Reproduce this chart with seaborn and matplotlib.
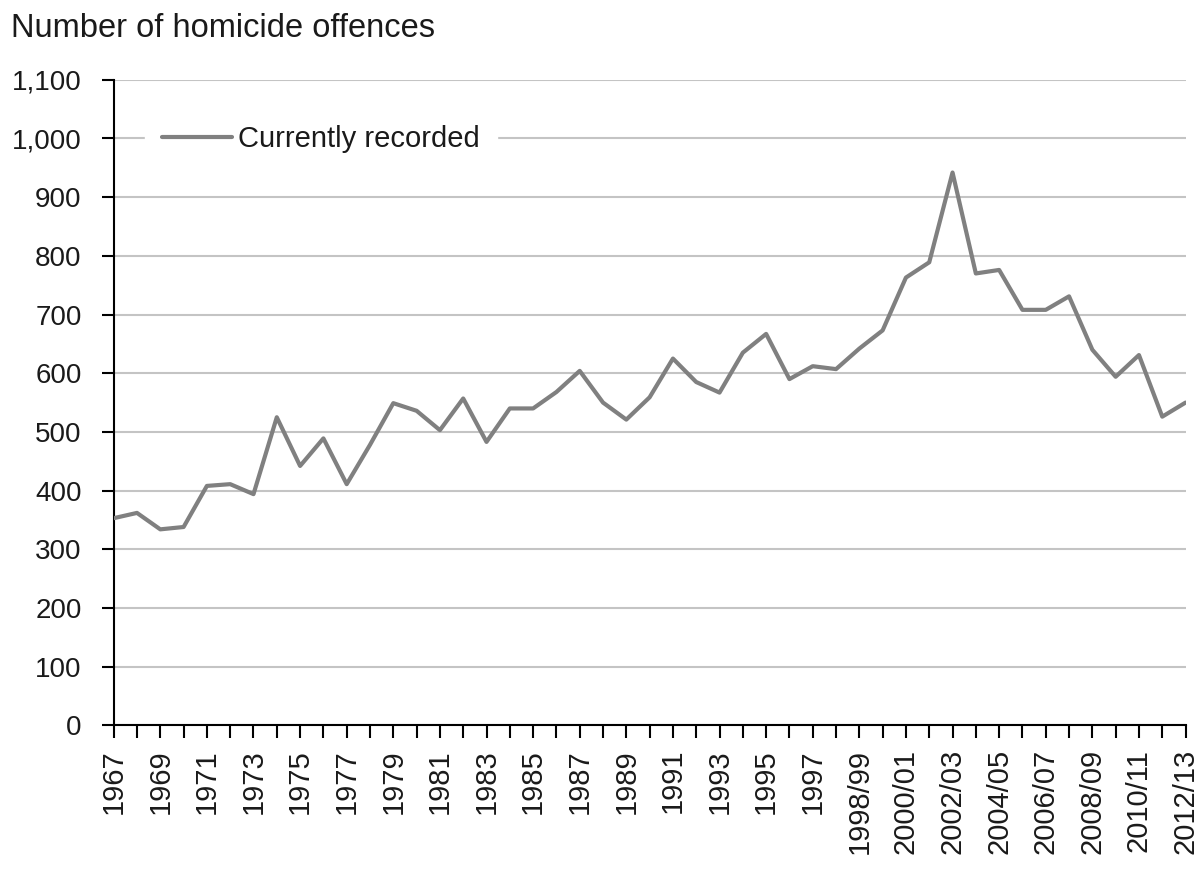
import pandas as pd
import matplotlib.pyplot as plt
from matplotlib.ticker import FuncFormatter, MultipleLocator
import seaborn as sns

# 연도 라벨 (1967~1997 연도, 이후 회계연도)
years = [str(y) for y in range(1967, 1998)] + \
        ['1997/98', '1998/99', '1999/00', '2000/01', '2001/02', '2002/03', '2003/04',
         '2004/05', '2005/06', '2006/07', '2007/08', '2008/09', '2009/10', '2010/11',
         '2011/12', '2012/13']

# 살인 범죄 건수 (currently recorded)
offences = [353, 362, 334, 338, 408, 411, 394, 525, 442, 489,
            411, 478, 549, 536, 503, 557, 483, 540, 540, 568,
            604, 550, 521, 559, 625, 585, 567, 635, 667, 590,
            612, 607, 642, 673, 763, 789, 942, 770, 776, 708,
            708, 731, 640, 594, 631, 526, 550]

df = pd.DataFrame({'year': years, 'offences': offences})
df['pos'] = range(len(df))

sns.set_style('white')
plt.rcParams['font.family'] = ['Liberation Sans', 'DejaVu Sans']
text_color = '#1a1a1a'

fig = plt.figure(figsize=(12.03, 8.71), dpi=100)
ax = fig.add_axes([0.0945, 0.1672, 0.891, 0.7412])

sns.lineplot(x='pos', y='offences', data=df, color='#808080', linewidth=3,
             label='Currently recorded', ax=ax, zorder=3)

ax.set_xlim(0, len(df) - 1)
ax.set_ylim(0, 1100)
ax.yaxis.set_major_locator(MultipleLocator(100))
ax.yaxis.set_major_formatter(FuncFormatter(lambda v, p: f'{int(v):,}'))
ax.grid(axis='y', color='#c4c4c4', linewidth=1.5)
ax.set_axisbelow(True)

ax.set_xticks(df['pos'][::2], df['year'][::2])
ax.set_xticks(df['pos'], minor=True)
ax.tick_params(axis='x', which='both', direction='out', length=9, width=1.5,
               color='black', bottom=True)
ax.tick_params(axis='x', which='major', labelrotation=90, labelsize=21,
               labelcolor=text_color, pad=8)
ax.tick_params(axis='y', direction='out', length=9, width=1.5, color='black',
               left=True, labelsize=20, labelcolor=text_color, pad=14)

for side in ['top', 'right']:
    ax.spines[side].set_visible(False)
for side in ['left', 'bottom']:
    ax.spines[side].set_color('black')
    ax.spines[side].set_linewidth(1.5)

ax.set_xlabel('')
ax.set_ylabel('')

leg = ax.legend(loc='center left', bbox_to_anchor=(0.029, 0.908), fontsize=21,
                frameon=True, framealpha=1, edgecolor='white', fancybox=False,
                handlelength=2.4, handletextpad=0.2, borderaxespad=0, borderpad=0.6)
for t in leg.get_texts():
    t.set_color(text_color)

fig.text(0.009, 0.967, 'Number of homicide offences', fontsize=23.5,
         color=text_color, va='center', ha='left')

plt.savefig('out.png', dpi=100)
